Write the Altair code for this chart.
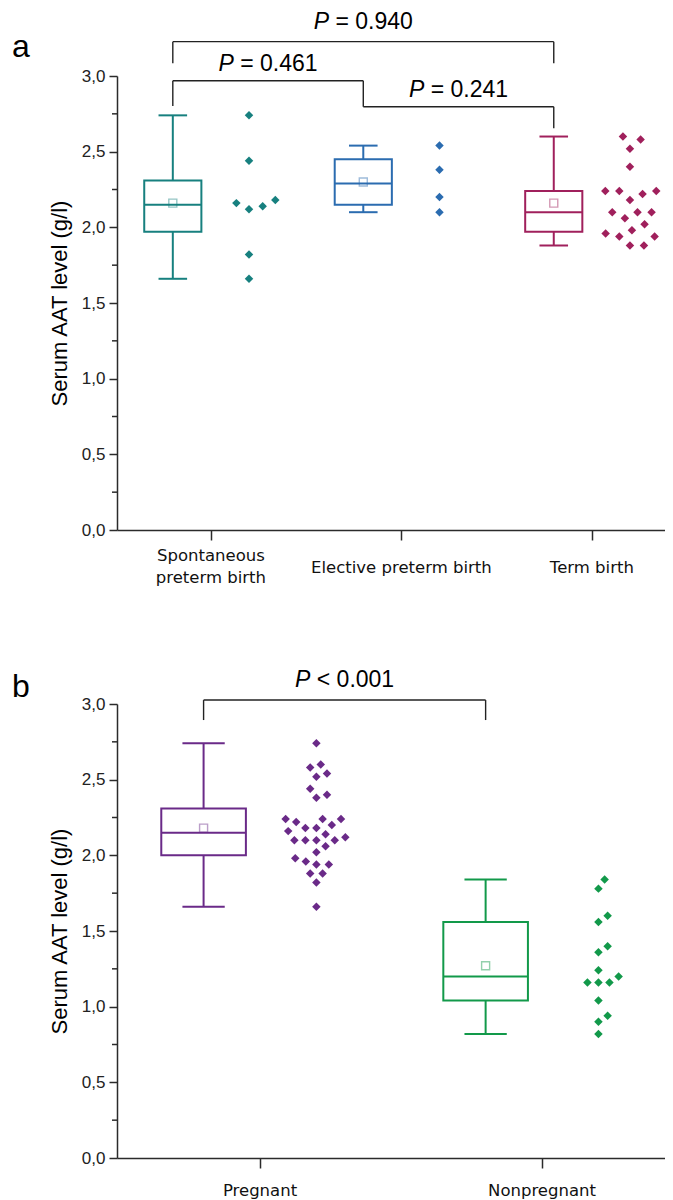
import altair as alt
import pandas as pd

FONT = "Liberation Sans"
LABEL_FONT = "DejaVu Sans"
INK = "#2b2b2b"

# ---------------- Panel a data ----------------
a_groups = ["Spontaneous preterm birth", "Elective preterm birth", "Term birth"]
a_labels = [["Spontaneous", "preterm birth"], ["Elective preterm birth"], ["Term birth"]]
a_colors = ["#17807f", "#2b6cb0", "#a0205c"]
a_points = [
    [2.74, 2.44, 2.12, 2.14, 2.18, 2.16, 1.82, 1.66],
    [2.54, 2.38, 2.20, 2.10],
    [2.60, 2.58, 2.52, 2.40, 2.22, 2.24, 2.24, 2.24, 2.18, 2.10, 2.10, 2.10,
     2.06, 2.02, 1.98, 1.94, 1.94, 1.96, 1.88, 1.88],
]
a_low = [1.66, 2.10, 1.88]
a_q1 = [1.97, 2.15, 1.97]
a_median = [2.15, 2.29, 2.10]
a_q3 = [2.31, 2.45, 2.24]
a_high = [2.74, 2.54, 2.60]
a_mean = [2.16, 2.30, 2.16]
a_br_from = [1, 1, 2]
a_br_to = [3, 2, 3]
a_br_level = [3.227, 2.969, 2.797]
a_br_drop1 = [3.084, 2.802, 2.797]
a_br_drop2 = [3.084, 2.797, 2.654]
a_br_text = ["= 0.940", "= 0.461", "= 0.241"]
a_br_text_level = [3.309, 3.035, 2.863]

# ---------------- Panel b data ----------------
b_groups = ["Pregnant", "Nonpregnant"]
b_labels = [["Pregnant"], ["Nonpregnant"]]
b_colors = ["#6a2a88", "#12994a"]
b_points = [
    [2.74, 2.60, 2.58, 2.54, 2.52, 2.44, 2.40, 2.38, 2.22, 2.24, 2.18, 2.20,
     2.18, 2.24, 2.24, 2.16, 2.14, 2.12, 2.10, 2.10, 2.10, 2.10, 2.06, 2.02,
     1.96, 1.94, 1.98, 1.94, 1.88, 1.88, 1.82, 1.66],
    [1.84, 1.78, 1.60, 1.56, 1.40, 1.36, 1.24, 1.20, 1.16, 1.16, 1.16, 1.04,
     0.94, 0.90, 0.82],
]
b_low = [1.66, 0.82]
b_q1 = [2.00, 1.04]
b_median = [2.15, 1.20]
b_q3 = [2.31, 1.56]
b_high = [2.74, 1.84]
b_mean = [2.18, 1.27]
b_br_from = [1]
b_br_to = [2]
b_br_level = [3.026]
b_br_drop1 = [2.894]
b_br_drop2 = [2.894]
b_br_text = ["< 0.001"]
b_br_text_level = [3.114]

y_ticks = [0.0, 0.5, 1.0, 1.5, 2.0, 2.5, 3.0]
y_minor = [0.25, 0.75, 1.25, 1.75, 2.25, 2.75]

W = 548
H = 454
Y_DOMAIN = [0, 3]
BOX_SHIFT = -0.2
PTS_SHIFT = 0.2
BOX_HALF = 0.15
CAP_HALF = 0.075
P_SIZE = 23


def swarm_offsets(vals, ypx, d):
    order = sorted(range(len(vals)), key=lambda i: vals[i])
    placed = []
    offs = [0.0] * len(vals)
    for i in order:
        y = vals[i] * ypx
        ivs = []
        for x0, y0 in placed:
            dy = abs(y - y0)
            if dy < d:
                w = (d * d - dy * dy) ** 0.5
                ivs.append((x0 - w, x0 + w))
        cands = [0.0] + [e for iv in ivs for e in iv]
        cands.sort(key=lambda c: (abs(c), -c))
        for c in cands:
            if all(not (lo + 1e-9 < c < hi - 1e-9) for lo, hi in ivs):
                offs[i] = c
                break
        placed.append((offs[i], y))
    return offs


def panel(groups, labels, colors, points, low, q1, med, q3, high, mean,
          br_from, br_to, br_level, br_d1, br_d2, br_text, br_tlevel,
          xdomain, letter, letter_y, label_y, diam):
    xpx = W / (xdomain[1] - xdomain[0])
    ypx = H / (Y_DOMAIN[1] - Y_DOMAIN[0])
    pos = list(range(1, len(groups) + 1))
    box = pd.DataFrame({
        "group": groups,
        "center": [p + BOX_SHIFT for p in pos],
        "low": low, "q1": q1, "median": med, "q3": q3, "high": high, "mean": mean,
    })
    box["left"] = box["center"] - BOX_HALF
    box["right"] = box["center"] + BOX_HALF
    box["capl"] = box["center"] - CAP_HALF
    box["capr"] = box["center"] + CAP_HALF

    rows = []
    for g, p, vals in zip(groups, pos, points):
        offs = swarm_offsets(vals, ypx, diam)
        for v, o in zip(vals, offs):
            rows.append({"group": g, "value": v, "x": p + PTS_SHIFT + o / xpx})
    pts = pd.DataFrame(rows)

    xaxis = alt.Axis(values=pos, labels=False, title=None, grid=False,
                     tickSize=10, tickWidth=1.5, tickColor=INK, domainColor=INK,
                     domainWidth=1.5)
    yaxis = alt.Axis(values=y_ticks, labelExpr="replace(format(datum.value, '.1f'), '.', ',')",
                     title="Serum AAT level (g/l)", grid=False, tickSize=8,
                     tickWidth=1.5, tickColor=INK, domainColor=INK, domainWidth=1.5,
                     labelFont=FONT, labelFontSize=17, labelColor="#222",
                     labelPadding=4, titleFont=FONT, titleFontSize=22,
                     titleFontWeight="normal", titleColor="#000", titlePadding=10)
    xs = alt.Scale(domain=xdomain, nice=False, zero=False)
    ys = alt.Scale(domain=Y_DOMAIN, nice=False, zero=False)

    def X(f):
        return alt.X(f, type="quantitative", scale=xs, axis=xaxis, title=None)

    def Y(f):
        return alt.Y(f, type="quantitative", scale=ys, axis=yaxis,
                     title="Serum AAT level (g/l)")

    cscale = alt.Scale(domain=groups, range=colors)
    col = alt.Color("group:N", scale=cscale, legend=None)
    base = alt.Chart(box)

    boxes = base.mark_rect(filled=False, strokeWidth=2).encode(
        x=X("left"), x2="right", y=Y("q1"), y2="q3", color=col)
    median = base.mark_rule(strokeWidth=2).encode(x=X("left"), x2="right", y=Y("median"), color=col)
    wh_hi = base.mark_rule(strokeWidth=2).encode(x=X("center"), y=Y("q3"), y2="high", color=col)
    wh_lo = base.mark_rule(strokeWidth=2).encode(x=X("center"), y=Y("low"), y2="q1", color=col)
    cap_hi = base.mark_rule(strokeWidth=2).encode(x=X("capl"), x2="capr", y=Y("high"), color=col)
    cap_lo = base.mark_rule(strokeWidth=2).encode(x=X("capl"), x2="capr", y=Y("low"), color=col)
    means = base.mark_point(shape="square", filled=False, size=64, strokeWidth=1.4,
                            opacity=0.45).encode(x=X("center"), y=Y("mean"), color=col)
    dots = alt.Chart(pts).mark_point(shape="diamond", filled=True, size=72, opacity=1).encode(
        x=X("x"), y=Y("value"), color=col)

    minor = alt.Chart(pd.DataFrame({"v": y_minor})).mark_rule(
        color=INK, strokeWidth=1.5).encode(y=Y("v"), x=alt.value(-5), x2=alt.value(0))

    br = pd.DataFrame({
        "x1": [f + BOX_SHIFT for f in br_from],
        "x2": [t + BOX_SHIFT for t in br_to],
        "level": br_level, "d1": br_d1, "d2": br_d2,
        "text": br_text, "tlevel": br_tlevel,
    })
    br["mid"] = (br["x1"] + br["x2"]) / 2
    bc = alt.Chart(br)
    bar = bc.mark_rule(color="#222", strokeWidth=1.4, clip=False).encode(
        x=X("x1"), x2="x2", y=Y("level"))
    dl = bc.mark_rule(color="#222", strokeWidth=1.4, clip=False).encode(
        x=X("x1"), y=Y("level"), y2="d1")
    dr = bc.mark_rule(color="#222", strokeWidth=1.4, clip=False).encode(
        x=X("x2"), y=Y("level"), y2="d2")
    half = 4.31 * P_SIZE / 2
    p_w = 0.667 * P_SIZE
    sp = 0.278 * P_SIZE
    tp = bc.mark_text(text="P", font=FONT, fontSize=P_SIZE, fontStyle="italic",
                      align="right", baseline="alphabetic", dx=-half + p_w, color="#000",
                      clip=False).encode(x=X("mid"), y=Y("tlevel"))
    tr = bc.mark_text(font=FONT, fontSize=P_SIZE, align="left", baseline="alphabetic",
                      dx=-half + p_w + sp, color="#000", clip=False).encode(
        x=X("mid"), y=Y("tlevel"), text="text:N")

    lab1 = pd.DataFrame({"p": [p for p, l in zip(pos, labels) if len(l) == 1],
                         "t": [l[0] for l in labels if len(l) == 1]})
    lab2 = pd.DataFrame({"p": [p for p, l in zip(pos, labels) if len(l) == 2],
                         "t": [l for l in labels if len(l) == 2]})
    layers_lab = [alt.Chart(lab1).mark_text(
        font=LABEL_FONT, fontSize=16.5, align="center", baseline="middle",
        color="#111", clip=False).encode(x=X("p"), y=alt.value(H + label_y), text="t:N")]
    if len(lab2):
        layers_lab.append(alt.Chart(lab2).mark_text(
            font=LABEL_FONT, fontSize=16.5, align="center", baseline="middle",
            lineHeight=22, color="#111", clip=False).encode(
            x=X("p"), y=alt.value(H + label_y - 12), text="t"))

    let = alt.Chart(pd.DataFrame({"t": [letter]})).mark_text(
        font=FONT, fontSize=32, align="left", baseline="alphabetic", color="#000").encode(
        x=alt.value(-105), y=alt.value(letter_y), text="t:N")

    return alt.layer(boxes, median, wh_hi, wh_lo, cap_hi, cap_lo, means, dots,
                     minor, bar, dl, dr, tp, tr, *layers_lab, let).properties(
        width=W, height=H)


pa = panel(a_groups, a_labels, a_colors, a_points, a_low, a_q1, a_median, a_q3,
           a_high, a_mean, a_br_from, a_br_to, a_br_level, a_br_drop1, a_br_drop2,
           a_br_text, a_br_text_level, [0.507, 3.384], "a", -19, 38, 14.0)
pb = panel(b_groups, b_labels, b_colors, b_points, b_low, b_q1, b_median, b_q3,
           b_high, b_mean, b_br_from, b_br_to, b_br_level, b_br_drop1, b_br_drop2,
           b_br_text, b_br_text_level, [0.493, 2.436], "b", -7, 33, 11.0)

chart = alt.vconcat(pa, pb, spacing=174, bounds="flush").resolve_scale(
    color="independent"
).properties(
    padding={"left": 4, "top": 3, "right": 0, "bottom": 0}
).configure(
    view=alt.ViewConfig(stroke="transparent", strokeWidth=0),
    style={"cell": {"stroke": "transparent", "strokeWidth": 0}},
)

chart.save("out.html", embed_options={"renderer": "svg", "actions": False})
